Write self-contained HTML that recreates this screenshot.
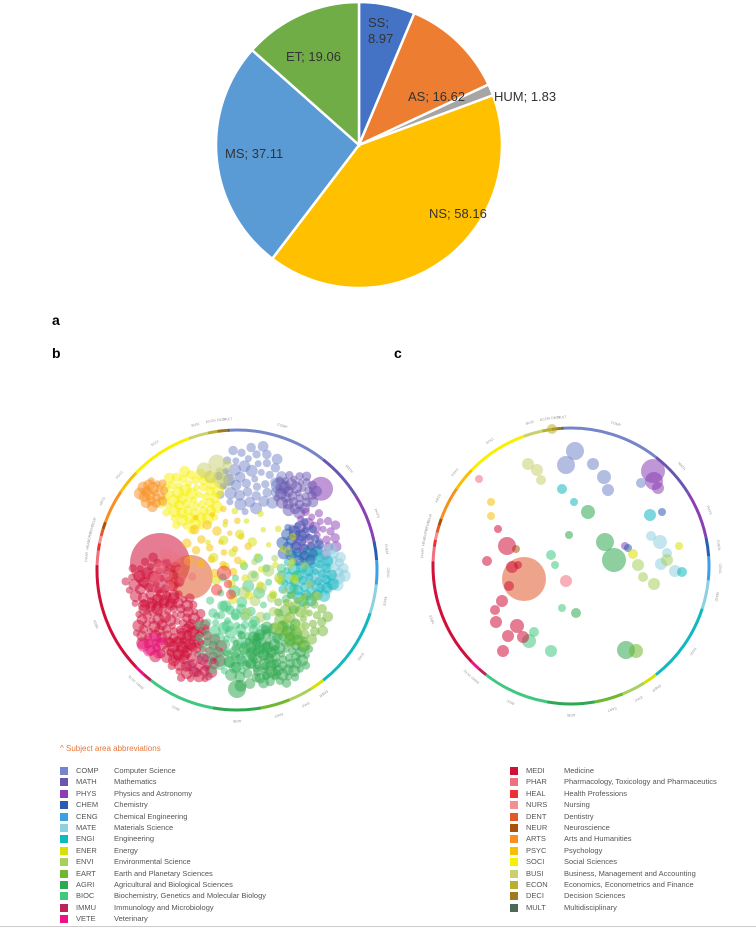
<!DOCTYPE html>
<html><head><meta charset="utf-8">
<style>
body{margin:0;background:#fff;font-family:"Liberation Sans",sans-serif;}
#wrap{position:relative;width:756px;height:930px;overflow:hidden;}
.lbl{position:absolute;font-weight:bold;font-size:14px;}
.leg{position:absolute;font-size:7.5px;color:#555;}
.leg .row{position:relative;height:11.4px;}
.leg .sq{position:absolute;left:0;top:1px;width:8px;height:8px;}
.leg .ab{position:absolute;left:16px;top:0;}
.leg .nm{position:absolute;left:54px;top:0;white-space:nowrap;}
</style></head><body>
<div id="wrap">
<svg id="pie" width="756" height="300" style="position:absolute;left:0;top:0"></svg>
<div class="lbl" style="left:52px;top:312px">a</div>
<div class="lbl" style="left:52px;top:345px">b</div>
<div class="lbl" style="left:394px;top:345px">c</div>
<svg id="bub" width="756" height="740" style="position:absolute;left:0;top:0"></svg>
<div style="position:absolute;left:60px;top:744px;font-size:8px;color:#e8773a">^ Subject area abbreviations</div>
<div class="leg" id="legL" style="left:60px;top:766px"></div>
<div class="leg" id="legR" style="left:510px;top:766px"></div>
<div style="position:absolute;left:0;top:926px;width:756px;height:1px;background:#ccc"></div>
</div>
<script>
const pieLabels=["SS","AS","HUM","NS","MS","ET"];
const pieValues=[8.97,16.62,1.83,58.16,37.11,19.06];
const pieColors=["#4472C4","#ED7D31","#A5A5A5","#FFC000","#5B9BD5","#70AD47"];
const legCodes=["COMP","MATH","PHYS","CHEM","CENG","MATE","ENGI","ENER","ENVI","EART","AGRI","BIOC","IMMU","VETE","MEDI","PHAR","HEAL","NURS","DENT","NEUR","ARTS","PSYC","SOCI","BUSI","ECON","DECI","MULT"];
const legNames=["Computer Science","Mathematics","Physics and Astronomy","Chemistry","Chemical Engineering","Materials Science","Engineering","Energy","Environmental Science","Earth and Planetary Sciences","Agricultural and Biological Sciences","Biochemistry, Genetics and Molecular Biology","Immunology and Microbiology","Veterinary","Medicine","Pharmacology, Toxicology and Pharmaceutics","Health Professions","Nursing","Dentistry","Neuroscience","Arts and Humanities","Psychology","Social Sciences","Business, Management and Accounting","Economics, Econometrics and Finance","Decision Sciences","Multidisciplinary"];
const legColors=["#7585c8","#6a55b0","#8a3fb5","#2a5cb0","#3aa0e8","#8fd0e0","#10b8c0","#d8e000","#a8d060","#70b830","#30a850","#40c880","#c0205a","#ee1188","#d0103a","#f07080","#f03030","#f09090","#e05a2a","#a8520a","#f89020","#f8c000","#f8f000","#c8d070","#b8b030","#a07a20","#506858"];
const ringStart=[-93,-52,-32,-12,-4,6,18,52,58,68,80,100,128,132,136,182,188,191,194,197,200,214,224,250,258,262,266];
const ringEnd=[-52,-32,-12,-4,6,18,52,58,68,80,100,128,132,136,182,188,191,194,197,200,214,224,250,258,262,266,267];
// Panel b clusters: [code index, dx, dy (fraction of radius), spread, count, bubble size]
const clusterCode=[0,1,2,5,6,3,22,20,21,14,14,14,15,11,11,10,10,9,8,7,23,13,12,16];
const clusterDX=[0.1,0.42,0.55,0.62,0.5,0.45,-0.33,-0.6,-0.15,-0.6,-0.48,-0.3,-0.45,-0.05,0.15,0.3,0.1,0.45,0.3,0.1,-0.15,-0.6,-0.25,-0.1];
const clusterDY=[-0.65,-0.55,-0.25,0.0,0.05,-0.2,-0.5,-0.55,-0.2,0.1,0.4,0.6,0.0,0.5,0.25,0.6,0.65,0.35,0.15,-0.1,-0.7,0.55,0.7,0.1];
const clusterSpread=[0.25,0.15,0.18,0.16,0.2,0.15,0.22,0.1,0.25,0.2,0.25,0.2,0.15,0.25,0.35,0.22,0.2,0.2,0.3,0.35,0.1,0.08,0.1,0.1];
const clusterCount=[45,35,30,45,45,25,55,20,25,40,90,50,10,50,40,70,30,35,25,30,6,6,6,4];
const clusterSize=[5,5,5,5,5,5,5,5,4,5,5,5,5,5,5,5,5,5,5,4,7,6,5,6];
// Large bubbles panel b: code, dx, dy, r
const bigCode=[14,18,2,0,23,10];
const bigDX=[-0.55,-0.33,0.6,0.3,-0.1,0.0];
const bigDY=[-0.05,0.05,-0.58,-0.6,-0.65,0.85];
const bigR=[30,22,12,8,10,9];
// Panel c bubbles: code, dx, dy (px from centre), r
const cCode=[18,2,2,2,0,0,0,0,0,0,23,23,23,24,6,6,6,5,5,5,5,5,6,2,3,3,7,8,8,8,10,10,10,10,11,11,11,11,11,14,14,14,14,14,14,14,14,14,14,15,15,21,21,19,14,8,7,10,11,14,14,10,9];
const cDX=[-47,82,83,87,4,-5,22,33,37,70,-43,-34,-30,-19,-9,3,79,80,90,96,104,89,111,54,57,91,62,72,96,83,43,34,17,5,-9,-16,-20,-37,-42,-53,-59,-69,-75,-76,-68,-63,-54,-48,-62,-5,-92,-80,-80,-55,-73,67,108,-2,-20,-64,-84,55,65];
const cDY=[13,-95,-85,-78,-115,-101,-102,-89,-76,-83,-102,-96,-86,-137,-77,-64,-51,-30,-2,-13,5,-24,6,-20,-18,-54,-12,11,-6,18,-6,-24,-54,47,42,-1,-11,66,75,-1,1,35,56,44,85,70,60,71,20,15,-87,-64,-50,-17,-37,-1,-20,-31,85,-20,-5,84,85];
const cR=[22,12,9,6,9,9,6,7,6,5,6,6,5,5,5,4,6,5,6,5,6,7,5,4,4,4,5,5,6,6,12,9,7,5,4,4,5,5,7,4,6,6,6,5,6,6,7,6,5,6,4,4,4,4,4,6,4,4,6,9,5,9,7];

const NS="http://www.w3.org/2000/svg";
function mk(parent,tag,attrs){const e=document.createElementNS(NS,tag);for(const k in attrs)e.setAttribute(k,attrs[k]);parent.appendChild(e);return e;}

// Pie
(function(){
const svg=document.getElementById('pie');
const cx=359,cy=145,R=143;
const total=pieValues.reduce((a,b)=>a+b,0);
let a0=-Math.PI/2;
const lp=[[375,28],[406,98],[494,97],[438,213],[255,154],[287,64]];
pieValues.forEach((v,i)=>{
 const a1=a0+v/total*2*Math.PI;
 const x0=cx+R*Math.cos(a0),y0=cy+R*Math.sin(a0),x1=cx+R*Math.cos(a1),y1=cy+R*Math.sin(a1);
 const p=mk(svg,'path',{d:`M${cx},${cy}L${x0},${y0}A${R},${R} 0 ${a1-a0>Math.PI?1:0} 1 ${x1},${y1}Z`,fill:pieColors[i],stroke:'#fff','stroke-width':2.5});
 
 
 a0=a1;
});
const txt=[["SS;","8.97"],["AS; 16.62"],["HUM; 1.83"],["NS; 58.16"],["MS; 37.11"],["ET; 19.06"]];
const pos=[[368,27],[408,101],[494,101],[429,218],[225,158],[286,61]];
txt.forEach((t,i)=>{
 t.forEach((s,j)=>{
  const e=mk(svg,'text',{x:pos[i][0],y:pos[i][1]+j*16,'font-size':13,fill:'#333','font-family':'Liberation Sans, sans-serif'});
  e.textContent=s;
  
  
 });
});
})();

// Bubbles
(function(){
const svg=document.getElementById('bub');
function ring(cx,cy,R,name){
 const g=mk(svg,'g',{});
 
 
 legCodes.forEach((c,i)=>{
  const a0=ringStart[i]*Math.PI/180,a1=ringEnd[i]*Math.PI/180;
  mk(g,'path',{d:`M${cx+R*Math.cos(a0)},${cy+R*Math.sin(a0)}A${R},${R} 0 ${ringEnd[i]-ringStart[i]>180?1:0} 1 ${cx+R*Math.cos(a1)},${cy+R*Math.sin(a1)}`,stroke:legColors[i],'stroke-width':3,fill:'none'});
  const am=(ringStart[i]+ringEnd[i])/2*Math.PI/180;
  const tx=cx+(R+10)*Math.cos(am),ty=cy+(R+10)*Math.sin(am);
  const t=mk(g,'text',{x:tx,y:ty,'font-size':3.5,fill:'#999','text-anchor':'middle',transform:`rotate(${(ringStart[i]+ringEnd[i])/2+90} ${tx} ${ty})`});
  t.textContent=c;
 });
}
// panel b
const bx=237,by=570,bR=140;
ring(bx,by,bR,'ring-b');
const gb=mk(svg,'g',{});


bigCode.forEach((c,i)=>{
 const e=mk(gb,'circle',{cx:bx+bigDX[i]*bR,cy:by+bigDY[i]*bR,r:bigR[i],fill:legColors[c],'fill-opacity':0.55});
 
 
});
clusterCode.forEach((c,i)=>{
 for(let k=0;k<clusterCount[i];k++){
  const rr=clusterSpread[i]*bR*Math.sqrt((k+0.5)/clusterCount[i]);
  const ang=k*2.39996;
  const e=mk(gb,'circle',{cx:bx+clusterDX[i]*bR+rr*Math.cos(ang),cy:by+clusterDY[i]*bR+rr*Math.sin(ang),r:clusterSize[i]*(0.7+0.5*((k*7)%5)/4),fill:legColors[c],'fill-opacity':0.5});
  
  
 }
});
// panel c
const cx=571,cy=566,cR0=138;
ring(cx,cy,cR0,'ring-c');
const gc=mk(svg,'g',{});


cCode.forEach((c,i)=>{
 const e=mk(gc,'circle',{cx:cx+cDX[i],cy:cy+cDY[i],r:cR[i],fill:legColors[c],'fill-opacity':0.55});
 
 
});
})();

// Legend
(function(){
function fill(id,from,to){
 const d=document.getElementById(id);
 for(let i=from;i<to;i++){
  const r=document.createElement('div');r.className='row';
  
  
  r.innerHTML=`<span class="sq" style="background:${legColors[i]}"></span><span class="ab">${legCodes[i]}</span><span class="nm">${legNames[i]}</span>`;
  d.appendChild(r);
 }
}
fill('legL',0,14);fill('legR',14,27);
})();
</script>
</body></html>
